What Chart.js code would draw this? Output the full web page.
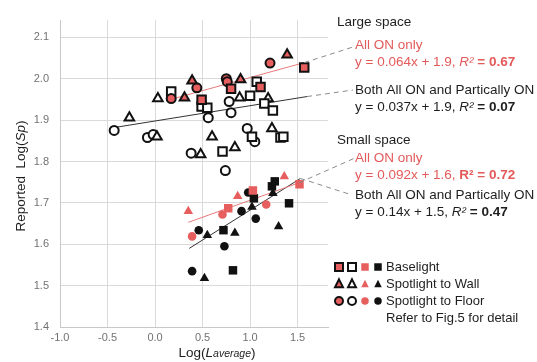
<!DOCTYPE html>
<html>
<head>
<meta charset="utf-8">
<script src="https://cdn.jsdelivr.net/npm/chart.js@4.4.1/dist/chart.umd.min.js"></script>
<style>
  html, body { margin: 0; padding: 0; background: #fff; }
</style>
</head>
<body>
<canvas id="chart" width="537" height="362"></canvas>
<script>
// tick labels
const xTicks = [-1.0, -0.5, 0.0, 0.5, 1.0, 1.5];
const yTicks = [1.4, 1.5, 1.6, 1.7, 1.8, 1.9, 2.0, 2.1];

// large space, All ON only  [Log(Laverage), Log(Sp)]
const largeAllBase  = [[0.49, 1.949], [0.80, 1.976], [1.11, 1.980], [1.57, 2.027]];
const largeAllWall  = [[0.31, 1.954], [0.39, 1.995], [0.90, 1.998], [1.39, 2.058]];
const largeAllFloor = [[0.17, 1.952], [0.44, 1.978], [0.75, 2.000], [0.76, 1.993], [1.21, 2.038]];

// large space, partially ON
const largePartBase  = [[0.17, 1.969], [0.49, 1.933], [0.55, 1.930], [0.71, 1.824], [1.00, 1.959],
                        [1.02, 1.860], [1.07, 1.993], [1.15, 1.940], [1.24, 1.923], [1.32, 1.858], [1.35, 1.860]];
const largePartWall  = [[-0.27, 1.906], [0.03, 1.952], [0.02, 1.860], [0.48, 1.817], [0.60, 1.860],
                        [0.84, 1.834], [0.89, 1.954], [1.19, 1.952], [1.23, 1.880]];
const largePartFloor = [[-0.43, 1.875], [-0.08, 1.858], [-0.02, 1.865], [0.38, 1.820], [0.56, 1.906],
                        [0.74, 1.778], [0.78, 1.945], [0.80, 1.918], [0.97, 1.880], [1.05, 1.848]];

// small space, All ON only
const smallAllBase  = [[0.77, 1.687], [1.03, 1.730], [1.52, 1.745]];
const smallAllWall  = [[0.35, 1.680], [0.87, 1.716], [1.36, 1.764]];
const smallAllFloor = [[0.39, 1.619], [0.71, 1.672], [1.17, 1.696]];

// small space, partially ON
const smallPartBase  = [[0.72, 1.634], [0.82, 1.537], [1.04, 1.711], [1.23, 1.740], [1.26, 1.752], [1.41, 1.699]];
const smallPartWall  = [[0.55, 1.622], [0.52, 1.518], [0.84, 1.627], [1.02, 1.690], [1.24, 1.723], [1.30, 1.643]];
const smallPartFloor = [[0.46, 1.634], [0.39, 1.535], [0.73, 1.595], [0.91, 1.680], [0.98, 1.725], [1.06, 1.662]];

// fitted lines (end points)
const largeFitAll  = [[0.18, 1.951], [1.57, 2.039]];
const largeFitBoth = [[-0.43, 1.882], [1.60, 1.957]];
const smallFitAll  = [[0.35, 1.653], [1.52, 1.749]];
const smallFitBoth = [[0.36, 1.590], [1.53, 1.759]];

const RED = "#e65f5e";
const TXT_RED = "#e35a5a";
const DARK = "#1e1e1e";
const FONT = "'Liberation Sans', Arial, sans-serif";

const pts = arr => arr.map(p => ({ x: p[0], y: p[1] }));

function scatterSet(data, style, fill, border, bw) {
  let r = style === "rect" ? 6 : (style === "triangle" ? 5.5 : 4.5);
  if (!bw && style === "circle") r = 4.3;
  return {
    type: "scatter",
    data: pts(data),
    pointStyle: style,
    pointRadius: r,
    pointHoverRadius: r,
    backgroundColor: fill,
    borderColor: border,
    pointBorderWidth: bw
  };
}

function fitSet(data, color) {
  return {
    type: "line",
    data: pts(data),
    borderColor: color,
    borderWidth: 1,
    pointRadius: 0,
    fill: false
  };
}

// leader lines + notes + legend, drawn outside the plot area
function runs(ctx, x, y, parts) {
  parts.forEach(p => {
    ctx.font = p.f;
    ctx.fillStyle = p.c;
    ctx.fillText(p.t, x, y + (p.dy || 0));
    x += ctx.measureText(p.t).width;
  });
}

function mark(ctx, shape, x, y, fill, stroke, lw, s) {
  ctx.save();
  ctx.beginPath();
  if (shape === "rect") {
    ctx.rect(x - s / 2, y - s / 2, s, s);
  } else if (shape === "triangle") {
    ctx.moveTo(x, y - s * 0.58);
    ctx.lineTo(x + s / 2, y + s * 0.42);
    ctx.lineTo(x - s / 2, y + s * 0.42);
    ctx.closePath();
  } else {
    ctx.arc(x, y, s / 2, 0, Math.PI * 2);
  }
  ctx.fillStyle = fill;
  ctx.fill();
  if (lw) {
    ctx.lineWidth = lw;
    ctx.strokeStyle = stroke;
    ctx.stroke();
  }
  ctx.restore();
}

const notes = {
  id: "notes",
  afterDraw(chart) {
    const ctx = chart.ctx;
    const xs = chart.scales.x, ys = chart.scales.y;
    const px = p => [xs.getPixelForValue(p[0]), ys.getPixelForValue(p[1])];

    ctx.save();
    // dashed leaders
    ctx.strokeStyle = "#8a8a8a";
    ctx.lineWidth = 1;
    ctx.setLineDash([5, 4]);
    [[largeFitAll[1], [353, 47]], [largeFitBoth[1], [353, 90]],
     [smallFitAll[1], [355, 158]], [smallFitBoth[1], [352, 195]]].forEach(l => {
      const a = px(l[0]);
      ctx.beginPath();
      ctx.moveTo(a[0], a[1]);
      ctx.lineTo(l[1][0], l[1][1]);
      ctx.stroke();
    });
    ctx.setLineDash([]);

    ctx.textBaseline = "middle";
    ctx.textAlign = "left";
    const n = "13.5px " + FONT, it = "italic 13.5px " + FONT, b = "bold 13.5px " + FONT;

    runs(ctx, 337, 22, [{ t: "Large space", f: n, c: DARK }]);
    runs(ctx, 355, 45, [{ t: "All ON only", f: n, c: TXT_RED }]);
    runs(ctx, 355, 62, [{ t: "y = 0.064x + 1.9, ", f: n, c: TXT_RED }, { t: "R²", f: it, c: TXT_RED },
                        { t: " = 0.67", f: b, c: TXT_RED }]);
    runs(ctx, 355, 90, [{ t: "Both All ON and Partically ON", f: n, c: DARK }]);
    runs(ctx, 355, 107, [{ t: "y = 0.037x + 1.9, ", f: n, c: DARK }, { t: "R²", f: it, c: DARK },
                         { t: " = 0.07", f: b, c: DARK }]);

    runs(ctx, 337, 140, [{ t: "Small space", f: n, c: DARK }]);
    runs(ctx, 355, 158, [{ t: "All ON only", f: n, c: TXT_RED }]);
    runs(ctx, 355, 175, [{ t: "y = 0.092x + 1.6, ", f: n, c: TXT_RED }, { t: "R² = 0.72", f: b, c: TXT_RED }]);
    runs(ctx, 355, 195, [{ t: "Both All ON and Partically ON", f: n, c: DARK }]);
    runs(ctx, 355, 212, [{ t: "y = 0.14x + 1.5, ", f: n, c: DARK }, { t: "R²", f: it, c: DARK },
                         { t: " = 0.47", f: b, c: DARK }]);

    // legend
    const rows = [["rect", "Baselight", 267], ["triangle", "Spotlight to Wall", 284], ["circle", "Spotlight to Floor", 301]];
    rows.forEach(r => {
      mark(ctx, r[0], 339, r[2], RED, "#111", 2, 8);
      mark(ctx, r[0], 352, r[2], "#fff", "#111", 2, 8);
      mark(ctx, r[0], 365, r[2], RED, null, 0, 7.5);
      mark(ctx, r[0], 378, r[2], "#111", null, 0, 7.5);
      runs(ctx, 386, r[2], [{ t: r[1], f: "13px " + FONT, c: DARK }]);
    });
    runs(ctx, 386, 318, [{ t: "Refer to Fig.5 for detail", f: "13px " + FONT, c: DARK }]);

    // axis titles
    const tn = "13.5px " + FONT, ti = "italic 13.5px " + FONT, ts = "italic 10.5px " + FONT;
    const xParts = [{ t: "Log(", f: tn, c: DARK }, { t: "L", f: ti, c: DARK },
                    { t: "average", f: ts, c: DARK, dy: 1.5 }, { t: ")", f: tn, c: DARK }];
    let w = 0;
    xParts.forEach(p => { ctx.font = p.f; w += ctx.measureText(p.t).width; });
    runs(ctx, 217 - w / 2, 353, xParts);

    const yParts = [{ t: "Reported  Log(", f: tn, c: DARK }, { t: "Sp", f: ti, c: DARK }, { t: ")", f: tn, c: DARK }];
    w = 0;
    yParts.forEach(p => { ctx.font = p.f; w += ctx.measureText(p.t).width; });
    ctx.translate(21, 176);
    ctx.rotate(-Math.PI / 2);
    runs(ctx, -w / 2, 0, yParts);
    ctx.restore();
  }
};

new Chart(document.getElementById("chart"), {
  type: "scatter",
  data: {
    datasets: [
      scatterSet(largeAllBase, "rect", RED, "#111", 2),
      scatterSet(largeAllWall, "triangle", RED, "#111", 2),
      scatterSet(largeAllFloor, "circle", RED, "#111", 2),
      scatterSet(largePartBase, "rect", "#fff", "#111", 2),
      scatterSet(largePartWall, "triangle", "#fff", "#111", 2),
      scatterSet(largePartFloor, "circle", "#fff", "#111", 2),
      scatterSet(smallAllBase, "rect", RED, RED, 0),
      scatterSet(smallAllWall, "triangle", RED, RED, 0),
      scatterSet(smallAllFloor, "circle", RED, RED, 0),
      scatterSet(smallPartBase, "rect", "#111", "#111", 0),
      scatterSet(smallPartWall, "triangle", "#111", "#111", 0),
      scatterSet(smallPartFloor, "circle", "#111", "#111", 0),
      fitSet(largeFitAll, "#e77a7a"),
      fitSet(largeFitBoth, "#333"),
      fitSet(smallFitAll, "#e77a7a"),
      fitSet(smallFitBoth, "#333")
    ]
  },
  options: {
    responsive: false,
    animation: false,
    layout: {
      padding: { top: 20, right: 209, bottom: 0, left: 0 }
    },
    plugins: {
      legend: { display: false },
      tooltip: { enabled: false }
    },
    scales: {
      x: {
        type: "linear",
        min: -1.0,
        max: 1.82,
        afterBuildTicks: axis => { axis.ticks = xTicks.map(v => ({ value: v })); },
        afterFit: axis => { axis.height = 35; },
        ticks: {
          color: "#727272",
          font: { family: FONT, size: 11 },
          padding: 4,
          callback: v => v.toFixed(1)
        },
        grid: { color: "#dadada", drawTicks: false },
        border: { color: "#c8c8c8" }
      },
      y: {
        type: "linear",
        min: 1.4,
        max: 2.142,
        afterBuildTicks: axis => { axis.ticks = yTicks.map(v => ({ value: v })); },
        afterFit: axis => { axis.width = 60; },
        ticks: {
          color: "#727272",
          font: { family: FONT, size: 11 },
          padding: 11,
          callback: v => v.toFixed(1)
        },
        grid: { color: "#dadada", drawTicks: false },
        border: { color: "#c8c8c8" }
      }
    }
  },
  plugins: [notes]
});
</script>
</body>
</html>
